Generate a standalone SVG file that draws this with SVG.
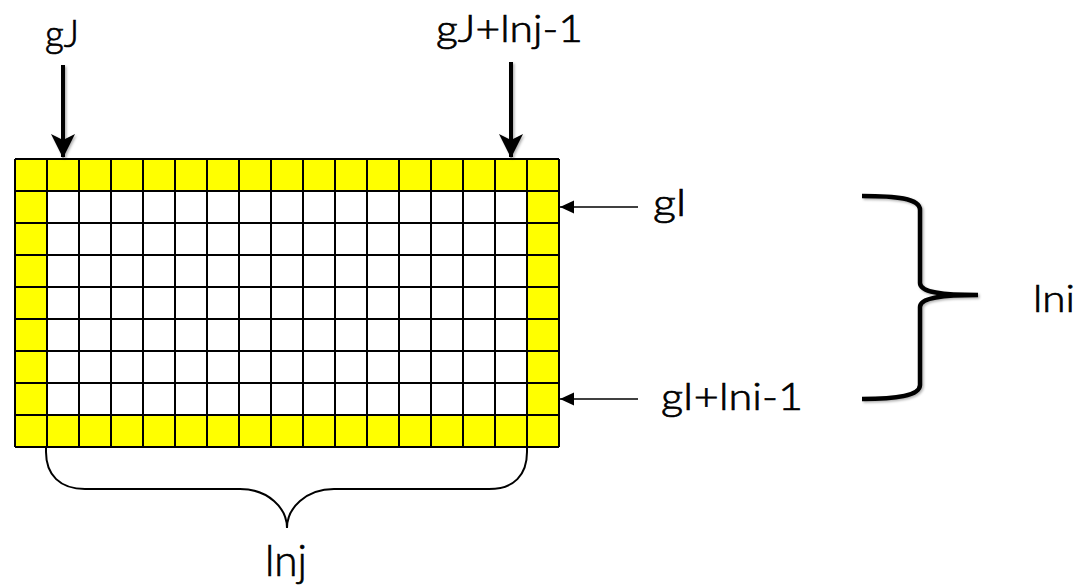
<svg xmlns="http://www.w3.org/2000/svg" width="1084" height="585" viewBox="0 0 1084 585">
<style>
.lbl{font-family:Lato,"Open Sans","Liberation Sans",sans-serif;font-size:37px;font-weight:300;fill:#000;stroke:#000;stroke-width:0.7}
.big{font-size:44px}
.gl{stroke:#000;stroke-width:2;fill:none}
.thick{stroke:#000;stroke-width:4;fill:none}
.thin{stroke:#000;stroke-width:1.6;fill:none}
.brace{stroke:#000;stroke-width:4.5;fill:none;stroke-linecap:butt}
.brace2{stroke:#000;stroke-width:2;fill:none}
</style>
<defs>
<marker id="bigHead" markerUnits="userSpaceOnUse" viewBox="-24 -13 26 26" refX="0" refY="0" markerWidth="26" markerHeight="26" orient="auto">
<path d="M1,0 L-23,-12 L-17,0 L-23,12 Z" fill="#000"/>
</marker>
<marker id="smallHead" markerUnits="userSpaceOnUse" viewBox="-15 -8 16 16" refX="0" refY="0" markerWidth="16" markerHeight="16" orient="auto">
<path d="M0,0 L-14,-6.5 L-14,6.5 Z" fill="#000"/>
</marker>
<filter id="sh" x="-20%" y="-20%" width="140%" height="140%">
<feDropShadow dx="1.5" dy="1.5" stdDeviation="1.2" flood-color="#000" flood-opacity="0.3"/>
</filter>
</defs>
<rect width="1084" height="585" fill="#fff"/>

<g id="grid">
<rect x="15" y="159" width="544" height="288" fill="#ffff00"/>
<rect x="47" y="191" width="480" height="224" fill="#fff"/>
<path class="gl" d="M15,159H559M15,191H559M15,223H559M15,255H559M15,287H559M15,319H559M15,351H559M15,383H559M15,415H559M15,447H559"/>
<path class="gl" d="M15,159V447M47,159V447M79,159V447M111,159V447M143,159V447M175,159V447M207,159V447M239,159V447M271,159V447M303,159V447M335,159V447M367,159V447M399,159V447M431,159V447M463,159V447M495,159V447M527,159V447M559,159V447"/>
</g>

<g id="label-gJ"><text class="lbl" x="45" y="47" textLength="34" lengthAdjust="spacingAndGlyphs">gJ</text></g>
<g id="label-gJ-end"><text class="lbl" x="436" y="42" textLength="147" lengthAdjust="spacingAndGlyphs">gJ+lnj-1</text></g>
<g id="label-gI"><text class="lbl" x="653" y="216" textLength="34" lengthAdjust="spacingAndGlyphs">gI</text></g>
<g id="label-gI-end"><text class="lbl" x="661" y="410" textLength="142" lengthAdjust="spacingAndGlyphs">gI+lni-1</text></g>
<g id="label-lni"><text class="lbl" x="1033" y="312" textLength="42" lengthAdjust="spacingAndGlyphs">lni</text></g>
<g id="label-lnj"><text class="lbl big" x="265" y="576" textLength="42" lengthAdjust="spacingAndGlyphs">lnj</text></g>

<g id="connectors">
<g filter="url(#sh)">
<line class="thick" x1="63" y1="65" x2="63" y2="157" marker-end="url(#bigHead)"/>
<line class="thick" x1="511" y1="62" x2="511" y2="157" marker-end="url(#bigHead)"/>
<path class="brace" d="M862,196 C895,196 920,198 920,210 L920,283 C920,292 940,295 978,295 C940,295 920,298 920,307 L920,385 C920,396 895,399 862,399"/>
</g>
<line class="thin" x1="638" y1="207" x2="560" y2="207" marker-end="url(#smallHead)"/>
<line class="thin" x1="638" y1="399" x2="560" y2="399" marker-end="url(#smallHead)"/>
<path class="brace2" d="M46,447 L46,452 C46,475 60,489 85,489 L240,489 C268,489 287,508 287,528 C287,508 306,489 334,489 L489,489 C514,489 527,475 527,452 L527,447"/>
</g>
</svg>
